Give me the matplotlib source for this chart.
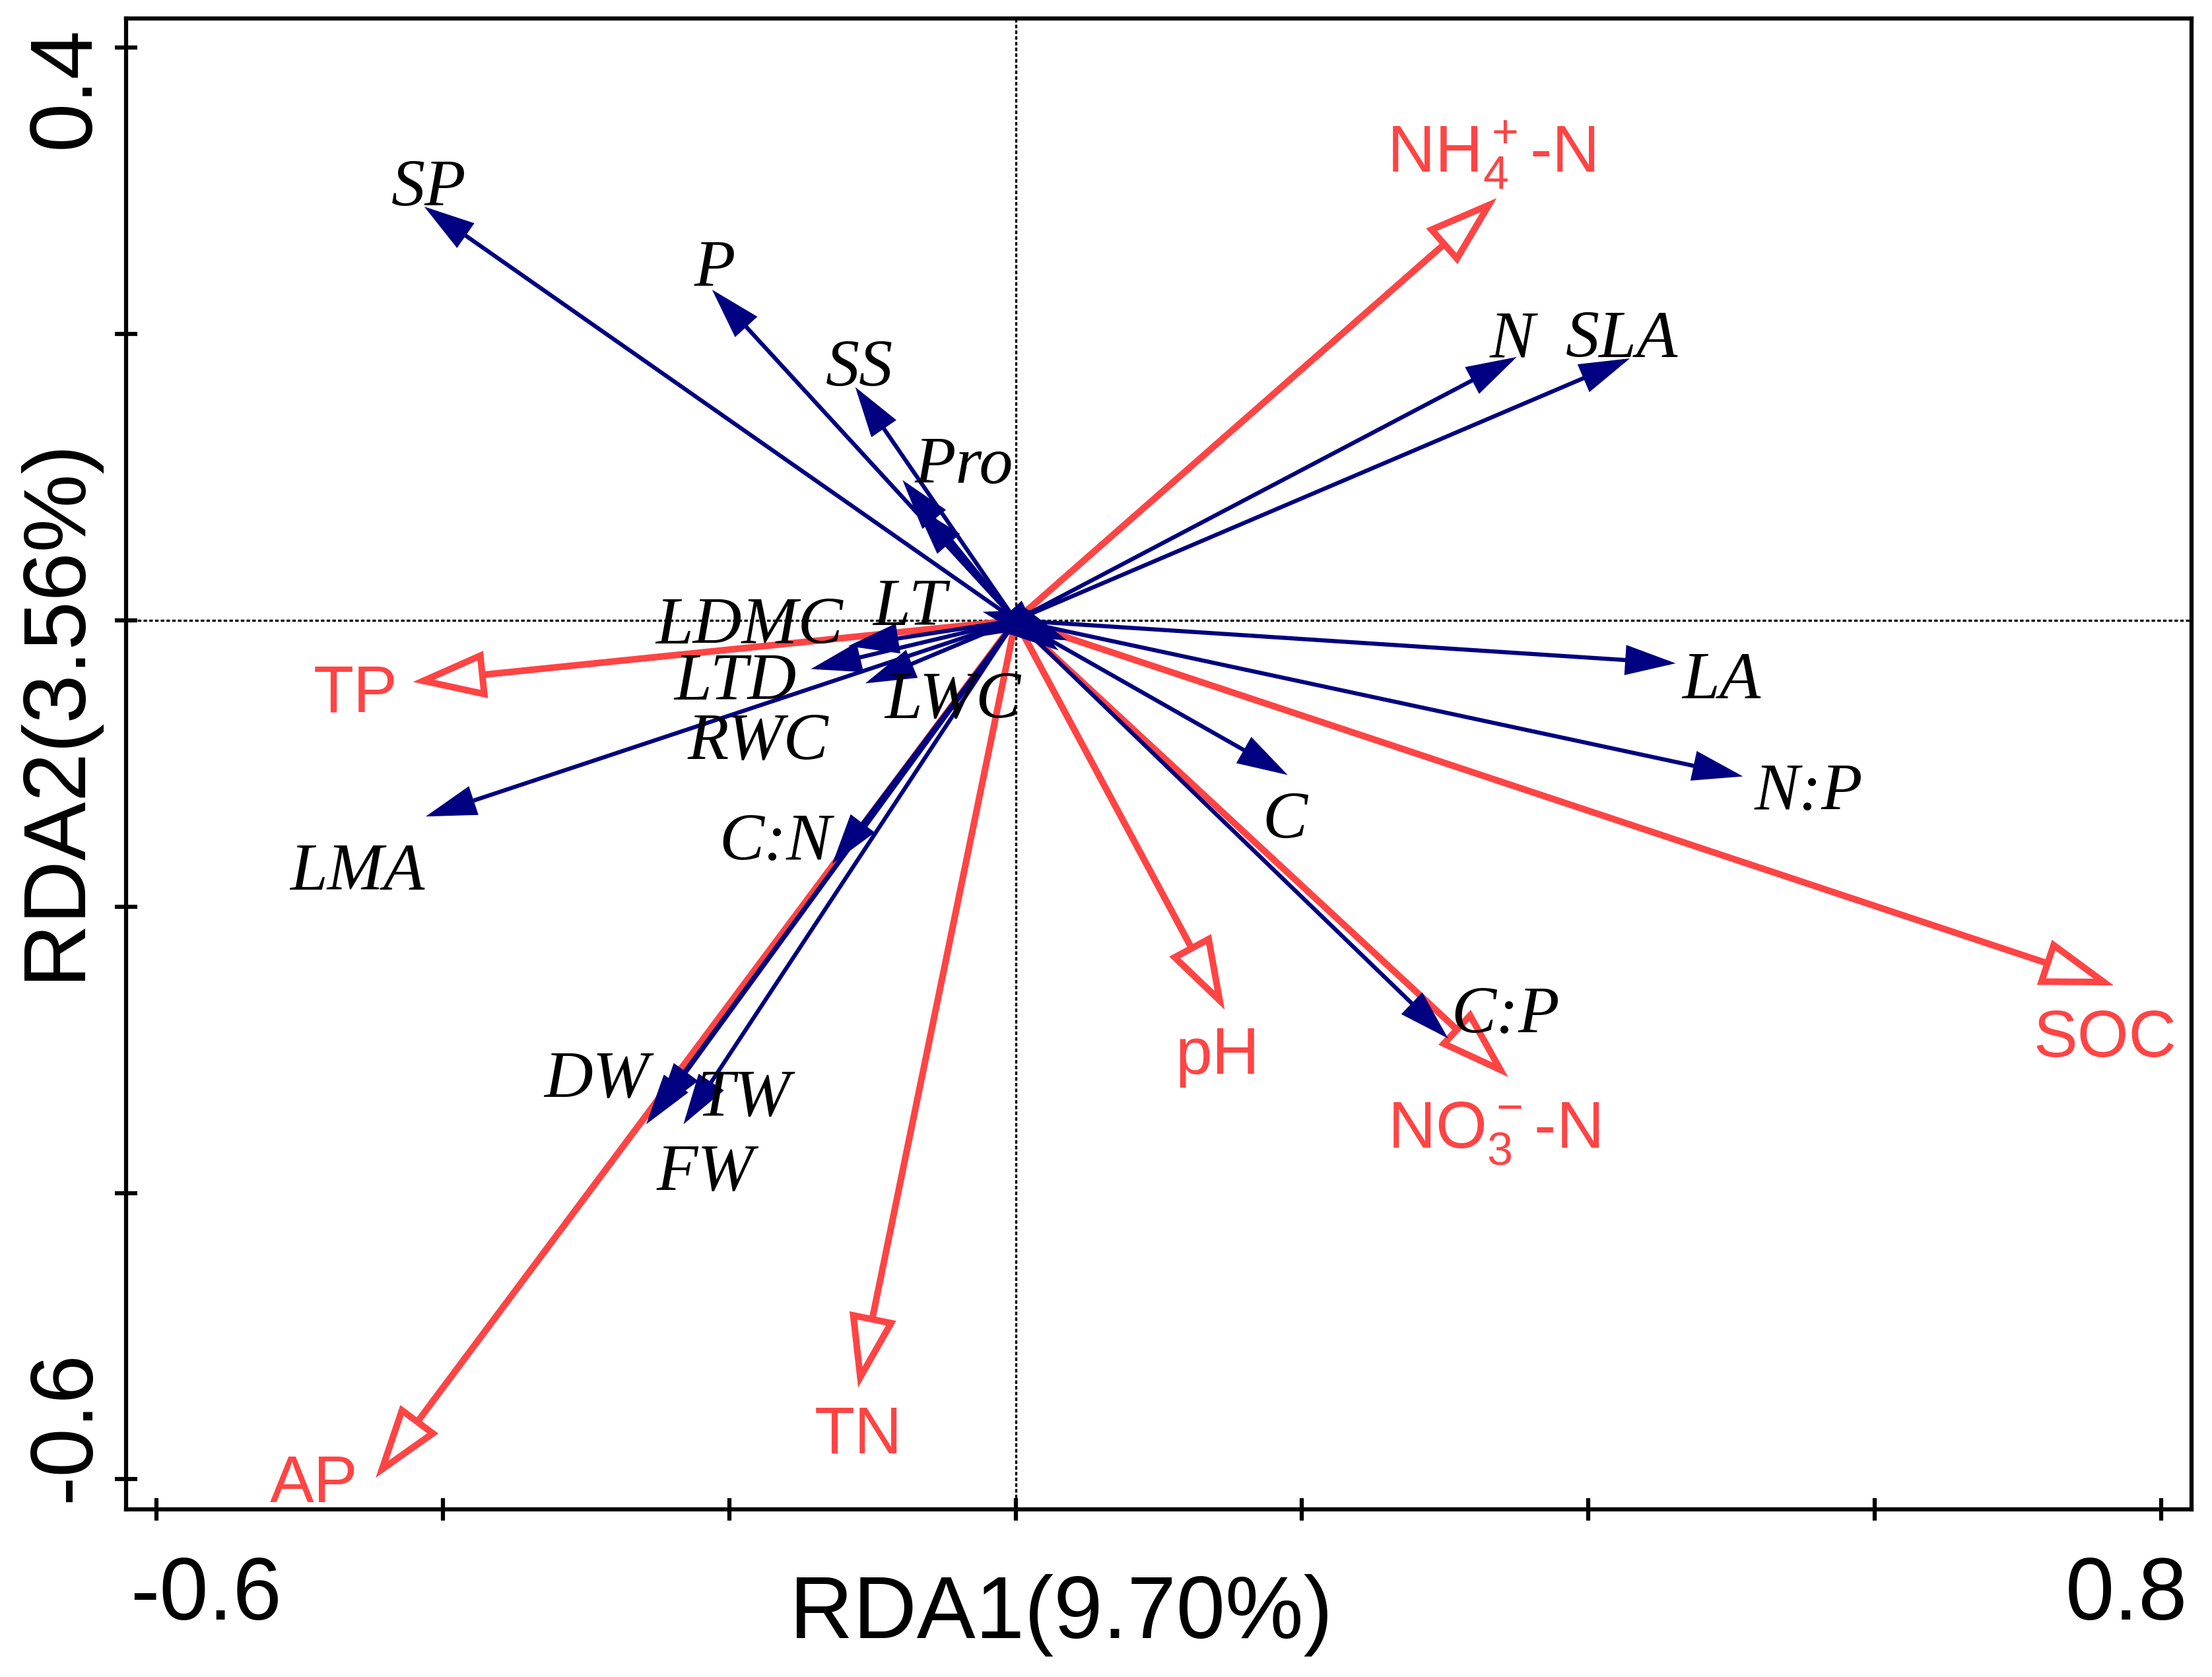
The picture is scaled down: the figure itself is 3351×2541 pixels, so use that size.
import matplotlib
matplotlib.use("Agg")
import matplotlib.pyplot as plt
from matplotlib.patches import FancyArrowPatch

plt.rcParams['mathtext.fontset'] = 'custom'
plt.rcParams['mathtext.rm'] = 'Liberation Sans'

# response variables (plant traits), arrow tips on RDA1 / RDA2
traits = ["SP", "P", "SS", "Pro", "LT", "LDMC", "RWC", "LTD", "LWC", "LMA",
          "C:N", "DW", "FW", "TW", "C", "C:P", "N:P", "LA", "N", "SLA"]
trait_x = [-0.413, -0.212, -0.112, -0.079, -0.023, -0.117, -0.023, -0.143, -0.105, -0.412,
           -0.128, -0.258, -0.251, -0.232, 0.190, 0.302, 0.508, 0.461, 0.350, 0.429]
trait_y = [0.289, 0.231, 0.163, 0.098, 0.006, -0.018, -0.011, -0.034, -0.044, -0.137,
           -0.170, -0.352, -0.344, -0.352, -0.108, -0.292, -0.109, -0.030, 0.184, 0.183]

# short arrows whose labels are not shown
extra_x = [-0.070, 0.036, 0.030]
extra_y = [0.080, -0.014, -0.021]

# explanatory variables (soil)
soil = [r"NH$\mathregular{_4^+}$-N", "TP", "AP", "TN", "pH",
        r"NO$\mathregular{_3^-}$-N", "SOC"]
soil_x = [0.336, -0.421, -0.447, -0.110, 0.146, 0.344, 0.767]
soil_y = [0.295, -0.043, -0.599, -0.536, -0.272, -0.319, -0.255]

# label anchor positions (layout)
trait_lx = [-0.410, -0.210, -0.109, -0.036, -0.074, -0.186, -0.180, -0.196, -0.044, -0.460,
            -0.168, -0.293, -0.217, -0.190, 0.188, 0.342, 0.554, 0.493, 0.347, 0.4235]
trait_ly = [0.306, 0.250, 0.180, 0.112, 0.013, 0.000, -0.081, -0.039, -0.052, -0.172,
            -0.151, -0.317, -0.382, -0.330, -0.136, -0.272, -0.116, -0.038, 0.200, 0.200]
soil_lx = [0.332, -0.461, -0.490, -0.110, 0.141, 0.334, 0.761]
soil_ly = [0.332, -0.047, -0.599, -0.565, -0.300, -0.352, -0.288]

BLUE = "#000080"
RED = "#FF4444"

fig = plt.figure(figsize=(3351 / 300, 2541 / 300), dpi=300)
ax = fig.add_axes([0.0570, 0.1000, 0.93375, 0.8890])
ax.set_xlim(-0.6213, 0.8213)
ax.set_ylim(-0.621, 0.4205)

ax.axhline(0, color="black", lw=0.8, dashes=(1.6, 1.0), zorder=1)
ax.axvline(0, color="black", lw=0.8, dashes=(1.6, 1.0), zorder=1)


def draw_arrow(x, y, edge, face, lw, hl, hw, z):
    arr = FancyArrowPatch((0, 0), (x, y),
                          arrowstyle=f"-|>,head_length={hl},head_width={hw}",
                          mutation_scale=1, lw=lw, edgecolor=edge, facecolor=face,
                          shrinkA=0, shrinkB=0, joinstyle="miter", zorder=z)
    ax.add_patch(arr)


# soil arrows (open heads)
for x, y in zip(soil_x, soil_y):
    draw_arrow(x, y, RED, "white", 2.4, 21.5, 7.0, 2)

# trait arrows (filled heads)
for x, y in zip(trait_x + extra_x, trait_y + extra_y):
    draw_arrow(x, y, BLUE, BLUE, 1.5, 15, 4.5, 3)

for name, x, y in zip(traits, trait_lx, trait_ly):
    ax.text(x, y, name, family="Liberation Serif", style="italic", fontsize=24.5,
            ha="center", va="center_baseline", zorder=4)

for name, x, y in zip(soil, soil_lx, soil_ly):
    ax.text(x, y, name, family="Liberation Sans", fontsize=24, color=RED,
            ha="center", va="center_baseline", zorder=4)

# axes, ticks
ax.set_xticks([-0.6, -0.4, -0.2, 0, 0.2, 0.4, 0.6, 0.8])
ax.set_yticks([-0.6, -0.4, -0.2, 0, 0.2, 0.4])
ax.set_xticklabels([])
ax.set_yticklabels([])
ax.tick_params(direction="inout", length=8, width=1.5)
for spine in ax.spines.values():
    spine.set_linewidth(1.5)

tick_font = dict(family="Liberation Sans", fontsize=32)
ax.text(0.002, -0.0587, "-0.6", transform=ax.transAxes, ha="left", va="center", **tick_font)
ax.text(0.998, -0.0587, "0.8", transform=ax.transAxes, ha="right", va="center", **tick_font)
ax.text(-0.029, 0.995, "0.4", transform=ax.transAxes, rotation=90, ha="center", va="top", **tick_font)
ax.text(-0.029, 0.005, "-0.6", transform=ax.transAxes, rotation=90, ha="center", va="bottom", **tick_font)

ax.text(0.4526, -0.071, "RDA1(9.70%)", transform=ax.transAxes, ha="center", va="center", **tick_font)
ax.text(-0.0341, 0.537, "RDA2(3.56%)", transform=ax.transAxes, rotation=90,
        ha="center", va="center", **tick_font)

fig.savefig("out.png", dpi=300)
